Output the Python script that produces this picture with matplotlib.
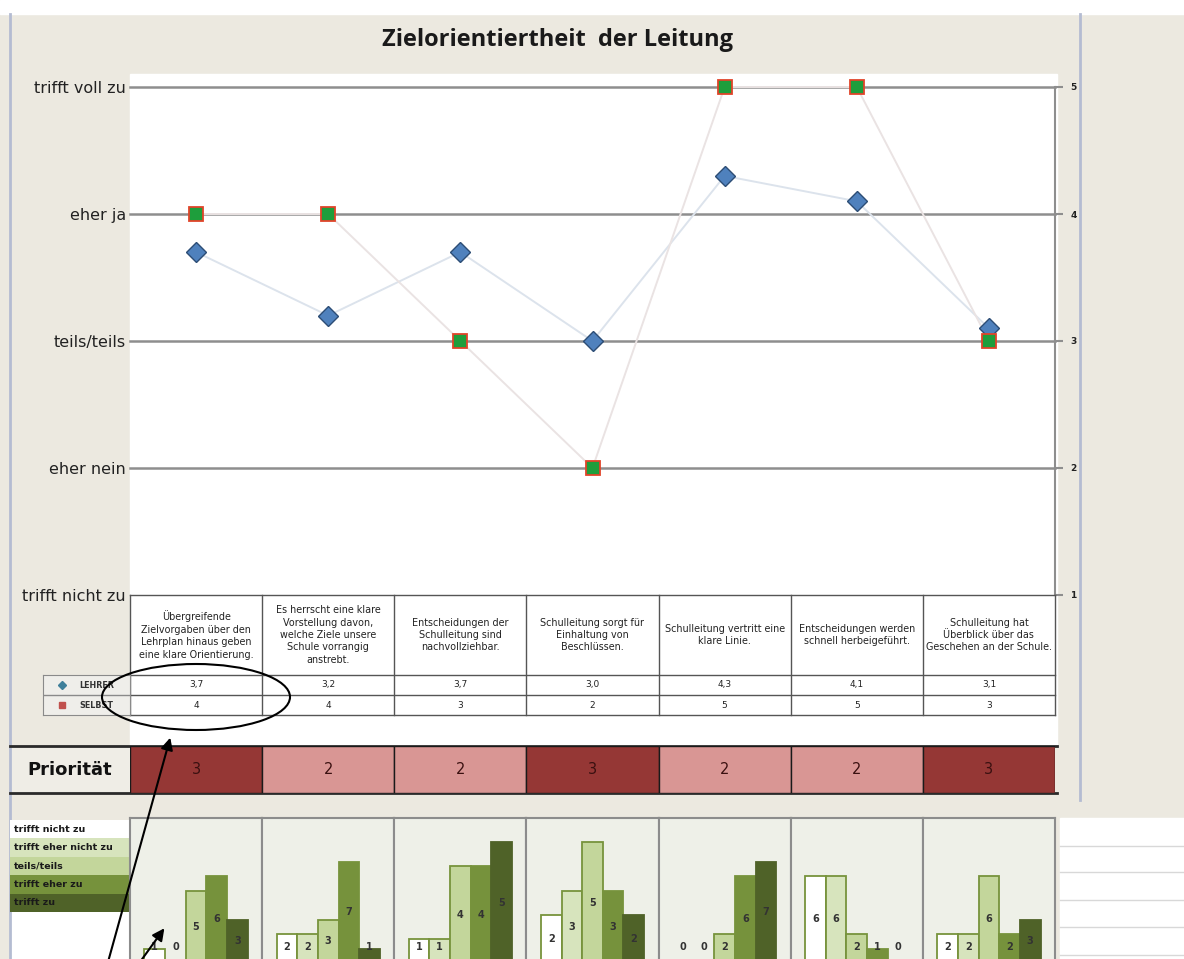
import matplotlib
matplotlib.use('Agg')
import matplotlib.pyplot as plt
from matplotlib.patches import Rectangle, Ellipse
import numpy as np

W, H = 1184, 959

# Daten
fragen = [
    "Übergreifende\nZielvorgaben über den\nLehrplan hinaus geben\neine klare Orientierung.",
    "Es herrscht eine klare\nVorstellung davon,\nwelche Ziele unsere\nSchule vorrangig\nanstrebt.",
    "Entscheidungen der\nSchulleitung sind\nnachvollziehbar.",
    "Schulleitung sorgt für\nEinhaltung von\nBeschlüssen.",
    "Schulleitung vertritt eine\nklare Linie.",
    "Entscheidungen werden\nschnell herbeigeführt.",
    "Schulleitung hat\nÜberblick über das\nGeschehen an der Schule.",
]
lehrer = [3.7, 3.2, 3.7, 3.0, 4.3, 4.1, 3.1]
selbst = [4, 4, 3, 2, 5, 5, 3]
prioritaet = [3, 2, 2, 3, 2, 2, 3]
skala = ["trifft nicht zu", "eher nein", "teils/teils", "eher ja", "trifft voll zu"]
stufen = ["trifft nicht zu", "trifft eher nicht zu", "teils/teils", "trifft eher zu", "trifft zu"]
verteilung = [
    [1, 0, 5, 6, 3],
    [2, 2, 3, 7, 1],
    [1, 1, 4, 4, 5],
    [2, 3, 5, 3, 2],
    [0, 0, 2, 6, 7],
    [6, 6, 2, 1, 0],
    [2, 2, 6, 2, 3],
]

BEIGE = '#ECE9E0'
GRID = '#8E8E8E'
GRUEN = ['#FFFFFF', '#D7E4BD', '#C3D69B', '#76923C', '#4F6228']
PRIO_FARBE = {3: '#953735', 2: '#D99694'}


def box(x0, y0, x1, y1):
    return [x0 / W, 1 - y1 / H, (x1 - x0) / W, (y1 - y0) / H]


fig = plt.figure(figsize=(W / 100, H / 100), dpi=100)
fig.patch.set_facecolor(BEIGE)

# Hintergrund in Pixelkoordinaten
bg = fig.add_axes([0, 0, 1, 1], zorder=-5)
bg.set_xlim(0, W)
bg.set_ylim(H, 0)
bg.axis('off')
bg.add_patch(Rectangle((0, 0), W, 14, color='white'))
bg.add_patch(Rectangle((130, 74), 927, 671, color='white'))
bg.add_patch(Rectangle((1060, 818), 124, 141, color='white'))
for yy in [846, 872, 900, 927, 955]:
    bg.plot([1060, 1184], [yy, yy], color='#D8D8D8', lw=1)
bg.add_patch(Rectangle((10, 912), 120, 47, color='white'))
bg.plot([10, 10], [14, 959], color='#B4BCD2', lw=2)
bg.plot([1080, 1080], [14, 800], color='#B4BCD2', lw=2)
# Prioritaet Rahmen
bg.add_patch(Rectangle((10, 746), 120, 47, facecolor='#EFEDE6', edgecolor='none'))
bg.plot([10, 1057], [746, 746], color='#2A2A2A', lw=2)
bg.plot([10, 1057], [793, 793], color='#2A2A2A', lw=2)
bg.text(70, 770, "Priorität", ha='center', va='center', fontsize=13,
        fontweight='bold', color='#111111')

fig.text(558 / W, 1 - 40 / H, "Zielorientiertheit  der Leitung", ha='center',
         va='center', fontsize=17, fontweight='bold', family='Open Sans',
         color='#1A1A1A')

# Hauptdiagramm
x = np.arange(len(lehrer))
ax = fig.add_axes(box(130, 87, 1055, 595))
ax.patch.set_alpha(0)
ax.set_xlim(-0.5, len(x) - 0.5)
ax.set_ylim(1, 5)
for v in [2, 3, 4, 5]:
    ax.axhline(v, color=GRID, lw=1.8, zorder=1, clip_on=False)
ax.plot(x, lehrer, color='#DCE3EC', lw=1.4, zorder=2)
ax.plot(x, selbst, color='#EAE3E3', lw=1.4, zorder=2, clip_on=False)
ax.plot(x, lehrer, ls='none', marker='D', ms=10.5, mfc='#4F81BD',
        mec='#2C4D75', mew=1, zorder=4, clip_on=False)
ax.plot(x, selbst, ls='none', marker='s', ms=10, mfc='#1E9E3C',
        mec='#E0442A', mew=1.3, zorder=5, clip_on=False)
ax.set_xticks([])
ax.set_yticks(range(1, 6))
ax.set_yticklabels(skala, fontsize=11.5, color='#222222')
ax.tick_params(axis='y', length=0, pad=3)
for s in ['top', 'left', 'bottom']:
    ax.spines[s].set_visible(False)
ax.spines['right'].set_color(GRID)
ax.spines['right'].set_linewidth(1.5)

ax2 = ax.twinx()
ax2.set_ylim(1, 5)
ax2.set_yticks(range(1, 6))
ax2.set_yticklabels([str(i) for i in range(1, 6)], fontsize=6.5,
                    fontweight='bold', color='#222222')
ax2.tick_params(axis='y', length=6, width=1.5, color=GRID, pad=5)
for s in ax2.spines.values():
    s.set_visible(False)

# Datentabelle
tab = fig.add_axes(box(130, 595, 1055, 715))
tab.set_xlim(-0.5, len(x) - 0.5)
tab.set_ylim(120, 0)
tab.axis('off')
tab.patch.set_alpha(0)
for k in range(len(x) + 1):
    tab.plot([k - 0.5, k - 0.5], [0, 120], color='#555555', lw=1, clip_on=False)
for yy in [0, 80, 100, 120]:
    tab.plot([-0.5, len(x) - 0.5], [yy, yy], color='#555555', lw=1, clip_on=False)
for i in x:
    tab.text(i, 40, fragen[i], ha='center', va='center', fontsize=6.9,
             linespacing=1.3, color='#222222')
    tab.text(i, 90, f"{lehrer[i]:.1f}".replace('.', ','), ha='center',
             va='center', fontsize=6.5, color='#222222')
    tab.text(i, 110, str(selbst[i]), ha='center', va='center', fontsize=6.5,
             color='#222222')

leg = fig.add_axes(box(43, 675, 130, 715))
leg.set_xlim(0, 1)
leg.set_ylim(2, 0)
leg.set_facecolor('#EFEEEA')
for s in leg.spines.values():
    s.set_color('#8A8A8A')
leg.axhline(1, color='#8A8A8A', lw=1)
leg.set_xticks([])
leg.set_yticks([])
leg.plot([0.22], [0.5], marker='D', ms=4, color='#3F7F9A', ls='none')
leg.plot([0.22], [1.5], marker='s', ms=5, color='#C0504D', ls='none')
leg.text(0.42, 0.5, "LEHRER", va='center', fontsize=5.8, fontweight='bold', color='#333333')
leg.text(0.42, 1.5, "SELBST", va='center', fontsize=5.8, fontweight='bold', color='#333333')

# Ellipse und Pfeile
ov = fig.add_axes([0, 0, 1, 1], zorder=20)
ov.set_xlim(0, W)
ov.set_ylim(H, 0)
ov.axis('off')
ov.patch.set_alpha(0)
ov.add_patch(Ellipse((196, 697), 188, 66, fill=False, color='black', lw=1.5))
ov.annotate('', xy=(171, 735), xytext=(108, 962),
            arrowprops=dict(arrowstyle='-|>', color='black', lw=1.5, mutation_scale=18))
ov.annotate('', xy=(166, 926), xytext=(140, 962),
            arrowprops=dict(arrowstyle='-|>', color='black', lw=1.5, mutation_scale=18))

# Prioritaet
pr = fig.add_axes(box(130, 746, 1055, 793))
pr.bar(x, 1, width=1, color=[PRIO_FARBE[p] for p in prioritaet],
       edgecolor='#1A1A1A', lw=1)
pr.set_xlim(-0.5, len(x) - 0.5)
pr.set_ylim(0, 1)
pr.axis('off')
for i, p in enumerate(prioritaet):
    pr.text(i, 0.5, str(p), ha='center', va='center', fontsize=10.5,
            color='#3A1010')

# Legende unten
lg = fig.add_axes(box(10, 820, 130, 912))
lg.barh(range(len(stufen)), 1, height=1, color=GRUEN, left=0)
lg.set_xlim(0, 1)
lg.set_ylim(len(stufen) - 0.5, -0.5)
lg.axis('off')
for i, s in enumerate(stufen):
    lg.text(0.03, i, s, va='center', fontsize=6.8, fontweight='bold', color='#1A1A1A')

# Verteilungen
col_w = (1055 - 130) / len(x)
for i, vals in enumerate(verteilung):
    a = fig.add_axes(box(130 + col_w * i, 818, 130 + col_w * (i + 1), 963))
    a.set_facecolor('#EEF0E8')
    top = 6 if max(vals) <= 5 else 10
    a.bar(range(5), vals, width=1, color=GRUEN,
          edgecolor=['#77933C'] * 4 + ['#4F6228'], lw=1.3)
    a.set_xlim(-1.2, 5.2)
    a.set_ylim(0, top)
    a.set_xticks([])
    a.set_yticks([])
    for s in a.spines.values():
        s.set_color('#8C8C8C')
        s.set_linewidth(1.5)
    for j, v in enumerate(vals):
        yf = max(v / 2 / top, 0.11)
        a.text(j, yf, str(v), transform=a.get_xaxis_transform(), ha='center',
               va='center', fontsize=7, fontweight='bold', color='#333333')

fig.savefig('out.png', dpi=100, facecolor=fig.get_facecolor())
